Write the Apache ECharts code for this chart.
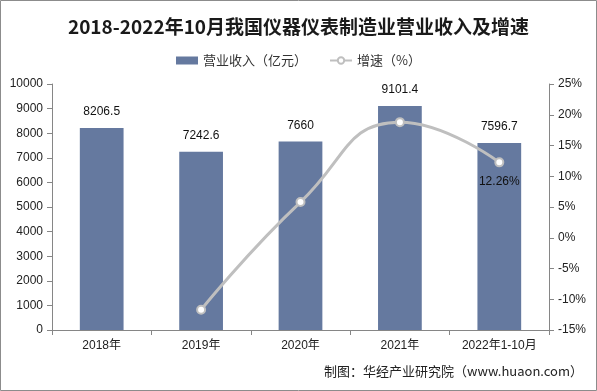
<!DOCTYPE html>
<html><head><meta charset="utf-8">
<script src="https://cdn.jsdelivr.net/npm/echarts@6/dist/echarts.min.js"></script>
<style>html,body{margin:0;padding:0;background:#fff}#c{width:597px;height:391px}</style>
</head><body><div id="c"></div>
<script>
const categories = ['2018年','2019年','2020年','2021年','2022年1-10月'];
const revenue = [8206.5, 7242.6, 7660, 9101.4, 7596.7];
const growth = [null, -11.7, 5.8, 18.8, 12.26];
const leftTicks = [0, 10000, 1000];
const rightTicks = [-15, 25, 5];

const chart = echarts.init(document.getElementById('c'), null, {renderer:'canvas'});
const axisLine = {show:true, lineStyle:{color:'#868686', width:1}};
chart.setOption({
  animation:false,
  title:{text:'2018-2022年10月我国仪器仪表制造业营业收入及增速', left:'center', top:12,
    textStyle:{fontFamily:'"Noto Sans CJK SC"', fontSize:19, fontWeight:'bold', color:'#1a1a1a'}},
  legend:{top:49, left:'center', itemGap:22, itemWidth:22, itemHeight:8,
    textStyle:{fontFamily:'"Noto Sans CJK SC"', fontSize:13, color:'#333'},
    data:[{name:'营业收入（亿元）', icon:'rect'}, {name:'增速（%）'}]},
  grid:{left:52, right:48, top:84, bottom:61},
  xAxis:{type:'category', data:categories, axisLine:axisLine,
    axisTick:{show:true, length:5, lineStyle:{color:'#868686'}},
    axisLabel:{fontFamily:'Arial, "Liberation Sans", "Noto Sans CJK SC"', fontSize:12, color:'#222', margin:10}},
  yAxis:[
    {type:'value', min:leftTicks[0], max:leftTicks[1], interval:leftTicks[2], splitLine:{show:false},
     axisLine:axisLine, axisTick:{show:true, length:5, lineStyle:{color:'#868686'}},
     axisLabel:{formatter:v=>String(v), fontFamily:'Arial, "Liberation Sans"', fontSize:12, color:'#222', margin:9}},
    {type:'value', min:rightTicks[0], max:rightTicks[1], interval:rightTicks[2], splitLine:{show:false},
     axisLine:axisLine, axisTick:{show:true, length:5, lineStyle:{color:'#868686'}},
     axisLabel:{formatter:'{value}%', fontFamily:'Arial, "Liberation Sans"', fontSize:12, color:'#222', margin:9}}
  ],
  series:[
    {name:'营业收入（亿元）', type:'bar', data:revenue, barWidth:'44%',
     itemStyle:{color:'#65799f'},
     label:{show:true, position:'top', distance:10, color:'#111', fontSize:12, fontFamily:'Arial, "Liberation Sans"'}},
    {name:'增速（%）', type:'line', yAxisIndex:1, data:growth, smooth:true,
     symbol:'circle', symbolSize:8, showSymbol:true,
     lineStyle:{color:'#bfbfbf', width:3},
     itemStyle:{color:'#ffffff', borderColor:'#bfbfbf', borderWidth:2},
     label:{show:true, formatter:p=> p.dataIndex===4 ? p.value+'%' : '', position:'bottom', distance:8,
       color:'#111', fontSize:12, fontFamily:'Arial, "Liberation Sans"'}}
  ],
  graphic:[
    {type:'rect', shape:{x:0.5, y:0.5, width:596, height:390}, style:{fill:'none', stroke:'#8c8c8c', lineWidth:1}, silent:true},
    {type:'text', right:14, top:365, style:{text:'制图：华经产业研究院（www.huaon.com）',
      font:'13px "Noto Sans CJK SC"', fill:'#222'}}
  ]
});
</script></body></html>
